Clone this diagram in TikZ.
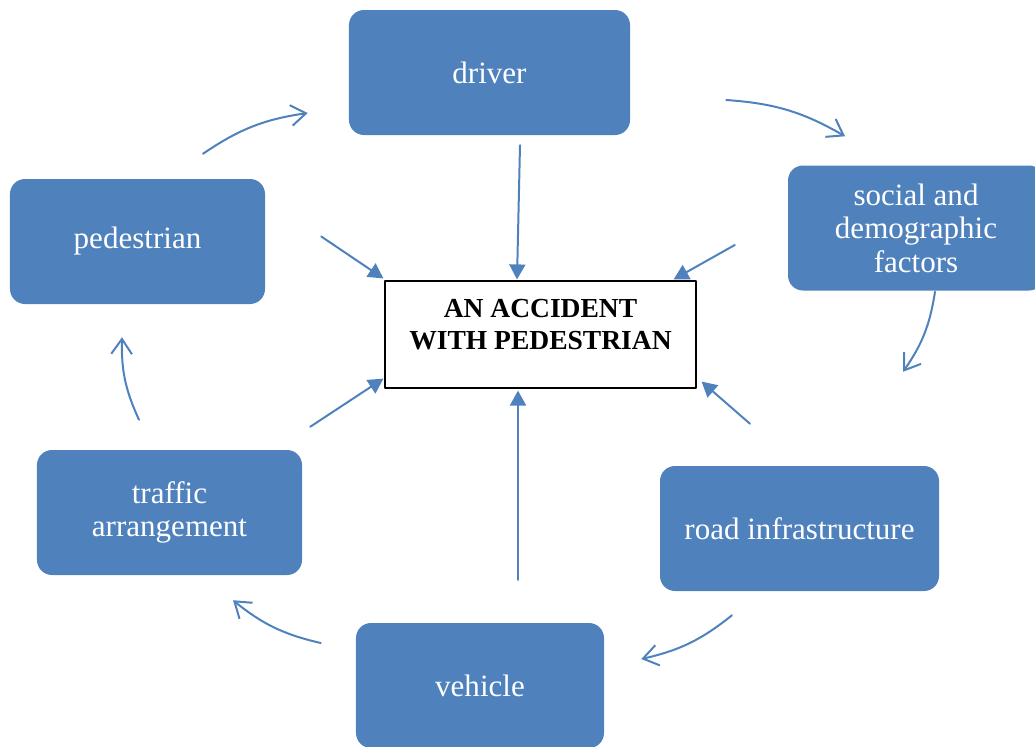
\documentclass[tikz,border=0pt]{standalone}
\usepackage{fontspec}
\setmainfont{Liberation Serif}
\usetikzlibrary{calc,arrows.meta}
\definecolor{boxblue}{RGB}{79,129,189}

\begin{document}
\begin{tikzpicture}[x=0.03cm,y=-0.03cm,line cap=round,line join=round,
    factor/.style={fill=boxblue, rounded corners=0.45cm, minimum height=3.75cm,
        text=white, align=center, font=\fontsize{26.5}{28.5}\selectfont},
    toacc/.style={boxblue, line width=1.7pt, -{Triangle[length=0.45cm,width=0.48cm]}},
    cycle/.style={boxblue, line width=1.7pt, bend left=13, -{Straight Barb[length=0.45cm,width=0.62cm,line width=1.7pt]}}]
    \useasboundingbox (0,0) rectangle (1035,746);
    % factors round the accident
    \node[factor, minimum width=8.43cm] (driver) at (489.5,72.5) {driver};
    \node[factor, minimum width=7.68cm] (social) at (916,228) {social and\\demographic\\factors};
    \node[factor, minimum width=8.37cm] (road) at (799.5,528.5) {road infrastructure};
    \node[factor, minimum width=7.44cm] (vehicle) at (480,685.5) {vehicle};
    \node[factor, minimum width=7.95cm] (traffic) at (169.5,512.5) {traffic\\arrangement};
    \node[factor, minimum width=7.65cm] (pedestrian) at (137.5,241.5) {pedestrian};
    % the accident itself
    \node[draw, line width=1pt, fill=white, minimum width=9.33cm, minimum height=3.21cm] (accident) at (540.5,334.5) {};
    \node[align=center, font=\bfseries\fontsize{23.5}{27.3}\selectfont] (acctext) at ($(accident)+(0,-10)$) {AN ACCIDENT\\WITH PEDESTRIAN};
    % straight arrows into the centre
    \draw[toacc] ($(driver.south)+(30.5,10)$) -- ($(accident.north)+(-23.5,-1)$);
    \draw[toacc] ($(social.west)+(-53,17)$) -- ($(accident.north east)+(-23,-1)$);
    \draw[toacc] ($(road.north)+(-49.5,-42)$) -- ($(accident.south east)+(5,-7)$);
    \draw[toacc] ($(vehicle.north)+(38,-43)$) -- ($(accident.south)+(-22.5,2)$);
    \draw[toacc] ($(traffic.north east)+(8,-23)$) -- ($(accident.south west)+(-1,-10)$);
    \draw[toacc] ($(pedestrian.east)+(56,-5)$) -- ($(accident.north west)+(-1,-2)$);
    % the cycle
    \draw[cycle] ($(pedestrian.north)+(65.5,-25)$) to ($(driver.west)+(-41,40.5)$);
    \draw[cycle] ($(driver.east)+(96,27.5)$) to ($(social.north)+(-71,-29)$);
    \draw[cycle] ($(social.south)+(19,1)$) to ($(road.north)+(103.5,-94)$);
    \draw[cycle] ($(road.south)+(-67.5,24)$) to ($(vehicle.east)+(37,-26.5)$);
    \draw[cycle] ($(vehicle.west)+(-35,-42.5)$) to ($(traffic.south)+(63.5,25)$);
    \draw[cycle] ($(traffic.north)+(-30.5,-30)$) to ($(pedestrian.south)+(-15.5,33)$);
\end{tikzpicture}
\end{document}
